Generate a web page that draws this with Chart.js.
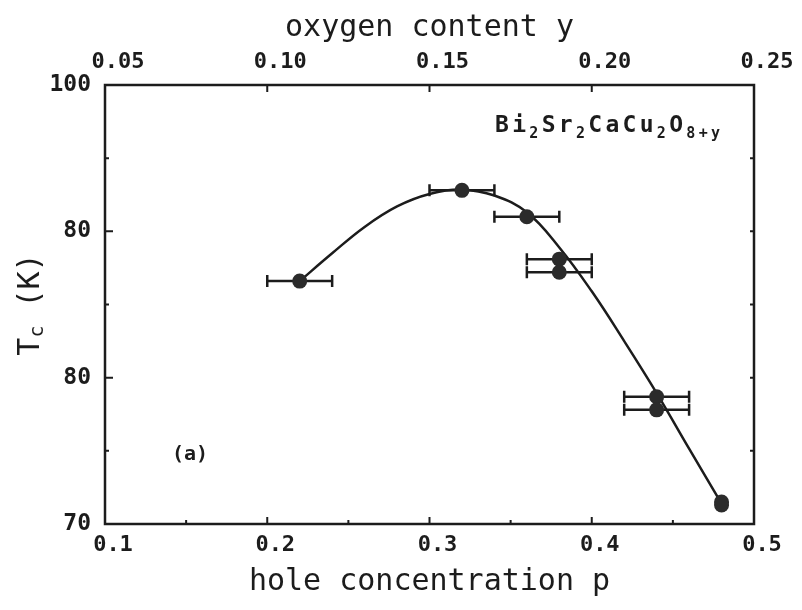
<!DOCTYPE html>
<html><head><meta charset="utf-8">
<script src="https://cdn.jsdelivr.net/npm/chart.js@4.4.1/dist/chart.umd.min.js"></script>
<style>html,body{margin:0;padding:0;background:#fff;}#wrap{width:802px;height:610px;}</style>
</head><body><div id="wrap"><canvas id="c" width="802" height="610"></canvas></div>
<script>
// measured points (hole concentration p, Tc in K) with horizontal error half-widths
const holeP    = [0.22, 0.32, 0.36, 0.38, 0.38, 0.44, 0.44, 0.48, 0.48];
const tcK      = [86.6, 92.8, 91.0, 88.1, 87.2, 78.7, 77.8, 71.5, 71.3];
const holePErr = [0.02, 0.02, 0.02, 0.02, 0.02, 0.02, 0.02, 0, 0];
// guide curve
const fitP  = [0.22, 0.24, 0.26, 0.28, 0.30, 0.32, 0.34, 0.36, 0.38, 0.40, 0.42, 0.44, 0.46, 0.48];
const fitTc = [86.6, 88.5, 90.3, 91.7, 92.55, 92.85, 92.45, 91.3, 88.9, 85.9, 82.5, 78.95, 75.15, 71.4];
// axes
const xTickValues = [0.1, 0.2, 0.3, 0.4, 0.5];
const xTickLabels = ['0.1', '0.2', '0.3', '0.4', '0.5'];
const xMinorValues = [0.15, 0.25, 0.35, 0.45];
const yTickValues = [70, 80, 90, 100];
const yTickLabels = ['70', '80', '80', '100'];
const yMinorValues = [75, 85, 95];
const topTickValues = [0.05, 0.10, 0.15, 0.20, 0.25];
const topTickLabels = ['0.05', '0.10', '0.15', '0.20', '0.25'];
const xTitle = 'hole concentration p';
const topTitle = 'oxygen content y';
const formulaParts = [['Bi',0],['2',1],['Sr',0],['2',1],['Ca',0],['Cu',0],['2',1],['O',0],['8+y',1]];
const panelLabel = '(a)';

const INK = '#1c1c1c';
const MONO = "'DejaVu Sans Mono', 'Liberation Mono', monospace";

const framePlugin = {
  id: 'frame',
  beforeDatasetsDraw(chart) {
    const {ctx, chartArea: a, scales} = chart;
    const x = scales.x, y = scales.y;
    ctx.save();
    ctx.strokeStyle = INK;
    ctx.lineWidth = 2.5;
    ctx.strokeRect(a.left, a.top, a.right - a.left, a.bottom - a.top);
    ctx.lineWidth = 2;
    ctx.beginPath();
    xTickValues.forEach(v => { const px = x.getPixelForValue(v); ctx.moveTo(px, a.bottom); ctx.lineTo(px, a.bottom - 7); });
    xMinorValues.forEach(v => { const px = x.getPixelForValue(v); ctx.moveTo(px, a.bottom); ctx.lineTo(px, a.bottom - 4); });
    const x2 = scales.x2;
    topTickValues.forEach(v => { const px = x2.getPixelForValue(v); ctx.moveTo(px, a.top); ctx.lineTo(px, a.top + 7); });
    yTickValues.forEach(v => { const py = y.getPixelForValue(v); ctx.moveTo(a.left, py); ctx.lineTo(a.left + 8, py); });
    yMinorValues.forEach(v => { const py = y.getPixelForValue(v); ctx.moveTo(a.left, py); ctx.lineTo(a.left + 4, py); });
    yTickValues.concat(yMinorValues).forEach(v => { const py = y.getPixelForValue(v); ctx.moveTo(a.right, py); ctx.lineTo(a.right - 4, py); });
    ctx.stroke();
    // error bars
    ctx.lineWidth = 2.5;
    ctx.beginPath();
    holeP.forEach((p, i) => {
      const e = holePErr[i];
      if (!e) return;
      const py = y.getPixelForValue(tcK[i]);
      const x0 = x.getPixelForValue(p - e), x1 = x.getPixelForValue(p + e);
      ctx.moveTo(x0, py); ctx.lineTo(x1, py);
      ctx.moveTo(x0, py - 6); ctx.lineTo(x0, py + 6);
      ctx.moveTo(x1, py - 6); ctx.lineTo(x1, py + 6);
    });
    ctx.stroke();
    ctx.restore();
  },
  afterDraw(chart) {
    const {ctx, chartArea: a} = chart;
    ctx.save();
    ctx.fillStyle = INK;
    ctx.translate(31, (a.top + a.bottom) / 2);
    ctx.rotate(-Math.PI / 2);
    ctx.textBaseline = 'middle';
    const big = '30px ' + MONO, small = '20px ' + MONO;
    ctx.font = big; const wT = ctx.measureText('T').width; const wK = ctx.measureText(' (K)').width;
    ctx.font = small; const wc = ctx.measureText('c').width;
    let cx = -(wT + wc + wK) / 2;
    ctx.textAlign = 'left';
    ctx.font = big; ctx.fillText('T', cx, 0); cx += wT;
    ctx.font = small; ctx.fillText('c', cx, 7); cx += wc;
    ctx.font = big; ctx.fillText(' (K)', cx, 0);
    ctx.restore();

    // formula
    ctx.save();
    ctx.fillStyle = INK;
    ctx.textBaseline = 'alphabetic';
    ctx.textAlign = 'left';
    if ('letterSpacing' in ctx) ctx.letterSpacing = '3.3px';
    let fx = 495;
    const base = 132;
    formulaParts.forEach(([t, sub]) => {
      ctx.font = sub ? 'bold 15px ' + MONO : 'bold 23px ' + MONO;
      ctx.fillText(t, fx, sub ? base + 6 : base);
      fx += ctx.measureText(t).width;
    });
    ctx.restore();

    // panel label
    ctx.save();
    ctx.fillStyle = INK;
    ctx.font = 'bold 20px ' + MONO;
    ctx.textAlign = 'center';
    ctx.textBaseline = 'middle';
    ctx.fillText(panelLabel, 190, 455);
    ctx.restore();
  }
};

const tickFont = {family: MONO, size: 22, weight: 'bold'};
const yTickFont = {family: MONO, size: 23, weight: 'bold'};
const titleFont = {family: MONO, size: 30};

new Chart(document.getElementById('c'), {
  type: 'scatter',
  data: {
    datasets: [
      {
        type: 'line',
        data: fitP.map((p, i) => ({x: p, y: fitTc[i]})),
        borderColor: INK,
        borderWidth: 2.5,
        pointRadius: 0,
        tension: 0.4,
        fill: false,
        order: 2
      },
      {
        data: holeP.map((p, i) => ({x: p, y: tcK[i]})),
        backgroundColor: '#2b2b2b',
        borderColor: '#2b2b2b',
        borderWidth: 0,
        pointRadius: 7.5,
        pointHoverRadius: 7.5,
        clip: false,
        order: 1
      }
    ]
  },
  options: {
    responsive: false,
    animation: false,
    devicePixelRatio: 1,
    layout: {padding: {left: 0, right: 48, top: 0, bottom: 0}},
    plugins: {legend: {display: false}, tooltip: {enabled: false}},
    scales: {
      x: {
        type: 'linear', position: 'bottom', min: 0.1, max: 0.5,
        afterBuildTicks: s => { s.ticks = xTickValues.map(v => ({value: v})); },
        afterFit: s => { s.height = 86; },
        ticks: {
          font: tickFont, color: INK, padding: 8, labelOffset: 8, maxRotation: 0,
          callback: (v, i) => xTickLabels[i]
        },
        grid: {display: false, drawTicks: false},
        border: {display: false},
        title: {display: true, text: xTitle, font: titleFont, color: INK, padding: {top: 0, bottom: 10}}
      },
      x2: {
        type: 'linear', position: 'top', min: 0.05, max: 0.25,
        afterBuildTicks: s => { s.ticks = topTickValues.map(v => ({value: v})); },
        afterFit: s => { s.height = 85; },
        ticks: {
          font: tickFont, color: INK, padding: 10, labelOffset: 13, maxRotation: 0,
          callback: (v, i) => topTickLabels[i]
        },
        grid: {display: false, drawTicks: false},
        border: {display: false},
        title: {display: true, text: topTitle, font: titleFont, color: INK, padding: {top: 10, bottom: 0}}
      },
      y: {
        type: 'linear', position: 'left', min: 70, max: 100,
        afterBuildTicks: s => { s.ticks = yTickValues.map(v => ({value: v})); },
        afterFit: s => { s.width = 105; },
        ticks: {
          font: yTickFont, color: INK, padding: 14,
          callback: (v, i) => yTickLabels[i]
        },
        grid: {display: false, drawTicks: false},
        border: {display: false}
      }
    }
  },
  plugins: [framePlugin]
});
</script>
</body></html>
